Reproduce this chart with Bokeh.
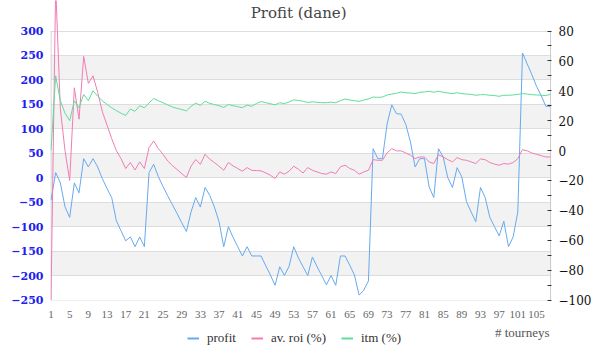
from bokeh.plotting import figure
from bokeh.layouts import column
from bokeh.models import Range1d, LinearAxis, FixedTicker, BoxAnnotation, Label, Legend, LegendItem
from bokeh.embed import file_html
from bokeh.resources import INLINE

# ---------------- data ----------------
tourneys = list(range(1, 109))

profit = [
    -46, 10.5, -10.6, -59.5, -81.3, -10.6, -31, 39, 22, 39,
    22, -2, -22, -40.5, -88, -108.5, -129, -121, -141, -121,
    -141, 10.5, 27.5, 2, -18, -37, -55, -73, -92, -110,
    -70, -40.5, -60, -20, -36, -60, -90, -141, -100, -122,
    -141, -160, -141, -160, -160, -160, -180, -199, -220, -182,
    -200, -181, -141, -164, -182, -200, -162, -182, -200, -219,
    -200, -220, -160, -160, -179, -199, -240, -230, -211, 59.5,
    39, 39, 110, 149, 131, 130, 109, 73, 22, 39,
    39, -19, -40.5, 59.5, 42.5, 0, -20, 20.7, 1.7, -49,
    -70, -90, -20, -40.5, -81, -100, -119, -89, -141, -121,
    -70, 255, 233, 211, 187, 168, 146, 146,
]

roi = [
    -100, 110, 28, 0, -20, 42, 21, 63, 45, 50,
    39, 26, 17, 8, 0, -5.4, -12, -8, -13, -7.6,
    -12, 2, 6.4, 1.3, -2.5, -7, -10, -12.7, -15.4, -18,
    -10.5, -6, -9.2, -2.5, -5.8, -8, -10.5, -13.2, -8, -10.3,
    -12, -13.8, -11.4, -13.2, -13.4, -13.6, -15, -16.5, -18.7, -14.3,
    -15.8, -13.8, -10.5, -12.5, -15, -11.4, -13.2, -14.3, -15.4, -15.8,
    -14.3, -15.4, -10.9, -9.8, -12, -13.2, -15.8, -14.3, -13.2, -6.1,
    -6.5, -6.5, -1.6, 1.3, -0.2, -0.2, -1.6, -3.1, -5.4, -4.3,
    -4.3, -7.6, -8.7, -2.8, -4.3, -6.1, -7.6, -4.7, -6.1, -6.5,
    -7.6, -8.7, -5.6, -6.1, -8, -9.1, -9.8, -8.7, -9.1, -8,
    -5.4, 0.6, -0.2, -1.6, -2.5, -3.4, -4.3, -4.3,
]

itm = [
    0, 50, 33.3, 25, 20, 33.3, 28.6, 37.5, 33.3, 40,
    36.4, 33.3, 30.8, 28.6, 26.7, 25, 23.5, 27.8, 26.3, 30,
    28.6, 31.8, 34.8, 33.3, 32, 30.5, 29.2, 28.2, 27.5, 26.5,
    29.6, 31.8, 30.2, 33, 31.6, 30.8, 30, 28.9, 30.8, 30,
    29.4, 28.7, 30.4, 29.6, 31.5, 32.8, 32, 31.3, 30.6, 32,
    31.4, 32.5, 33.9, 33.5, 33, 32.2, 32.6, 32.3, 32, 32,
    32.4, 32, 33.4, 34.5, 33.8, 33.4, 32.9, 33.8, 34.5, 35.8,
    35.6, 35.8, 37.2, 37.8, 38.3, 39.2, 38.7, 38.5, 38.1, 39,
    39.2, 39.7, 39, 39.7, 39, 38.5, 38.1, 38.7, 38.1, 37.8,
    37.6, 37, 37.4, 37.4, 37, 36.8, 36.3, 37, 37, 37.2,
    37.6, 38.1, 37.8, 37.4, 37.2, 37, 36.8, 37.6,
]

x_ticks = list(range(1, 106, 4))
left_ticks = list(range(-250, 301, 50))
right_ticks = list(range(-100, 81, 20))
right_minor = list(range(-90, 71, 20))
series_names = ["profit", "av. roi (%)", "itm (%)"]
title_text = "Profit  (dane)"
x_title = "# tourneys"

# ---------------- geometry ----------------
W = 600
H1, H2 = 324, 36          # chart + strip for x title / legend
BL, BR, BB = 50, 49, 24
FW = W - BL - BR          # 501
FH = H1 - BB              # 300, frame starts at canvas top

sx = (FW - 1 - 0.5) / (tourneys[-1] - tourneys[0])
x_start = tourneys[0] - 0.5 / sx
x_end = tourneys[-1] + 1 / sx

top_px, bot_px = 30.5, FH - 0.5
sl = (bot_px - top_px) / (left_ticks[-1] - left_ticks[0])
yl_top = left_ticks[-1] + top_px / sl
yl_bot = left_ticks[0] - (FH - bot_px) / sl
sr = (bot_px - top_px) / (right_ticks[-1] - right_ticks[0])
yr_top = right_ticks[-1] + top_px / sr
yr_bot = right_ticks[0] - (FH - bot_px) / sr

BLUE = "#66aaee"
PINK = "#f07cb4"
GREEN = "#5fdc9c"
SERIF = "DejaVu Serif"
SERIF2 = "Liberation Serif"

p = figure(width=W, height=H1, output_backend="svg", toolbar_location=None,
           title=None,
           x_range=Range1d(x_start, x_end), y_range=Range1d(yl_bot, yl_top),
           min_border_left=BL, min_border_right=BR, min_border_top=0,
           min_border_bottom=BB, outline_line_color=None,
           background_fill_color="white", border_fill_color="white")
p.extra_y_ranges = {"right": Range1d(yr_bot, yr_top)}

# alternate bands
for k, t in enumerate(left_ticks[:-1]):
    if k % 2 == 1:
        p.add_layout(BoxAnnotation(bottom=t, top=left_ticks[k + 1],
                                   fill_color="#f2f2f2", fill_alpha=1,
                                   line_color=None, level="image"))

# grid
p.xgrid.grid_line_color = None
p.ygrid.ticker = FixedTicker(ticks=left_ticks)
p.ygrid.grid_line_color = "#dddddd"
p.ygrid.grid_line_width = 1

# frame side borders
p.segment(x0=[tourneys[0], tourneys[-1]], y0=[left_ticks[0]] * 2,
          x1=[tourneys[0], tourneys[-1]], y1=[left_ticks[-1]] * 2,
          line_color="#cccccc", line_width=1)

# x axis
xa = p.xaxis[0]
xa.ticker = FixedTicker(ticks=x_ticks, minor_ticks=[])
xa.axis_line_color = None
xa.major_tick_line_color = None
xa.minor_tick_line_color = None
xa.major_tick_out = 0
xa.minor_tick_out = 0
xa.major_label_text_font = SERIF2
xa.major_label_text_font_size = "11px"
xa.major_label_text_color = "#666666"
xa.major_label_standoff = 10

# left axis
ya = p.yaxis[0]
ya.ticker = FixedTicker(ticks=left_ticks, minor_ticks=[])
ya.axis_line_color = None
ya.major_tick_line_color = None
ya.minor_tick_line_color = None
ya.major_tick_out = 0
ya.minor_tick_out = 0
ya.major_label_text_font = SERIF
ya.major_label_text_font_style = "bold"
ya.major_label_text_font_size = "11px"
ya.major_label_text_color = "#2020ee"
ya.major_label_standoff = 7

# right axis
ra = LinearAxis(y_range_name="right",
                ticker=FixedTicker(ticks=right_ticks, minor_ticks=right_minor))
ra.axis_line_color = None
ra.major_tick_in = 4
ra.major_tick_out = 0
ra.minor_tick_in = 4
ra.minor_tick_out = 0
ra.major_tick_line_color = "#333333"
ra.minor_tick_line_color = "#333333"
ra.major_label_text_font = SERIF
ra.major_label_text_font_size = "12px"
ra.major_label_text_color = "#111111"
ra.major_label_standoff = 7
p.add_layout(ra, "right")

# series
p.line(tourneys, profit, line_color=BLUE, line_width=1)
p.line(tourneys, roi, line_color=PINK, line_width=1, y_range_name="right")
p.line(tourneys, itm, line_color=GREEN, line_width=1, y_range_name="right")

# chart title (inside the tall frame so the roi spike can rise above the grid)
p.add_layout(Label(x=FW / 2, y=FH - 12, x_units="screen", y_units="screen",
                   text=title_text, text_font=SERIF, text_font_size="15px",
                   text_color="#444444", text_align="center",
                   text_baseline="middle"))

# ---------------- bottom strip: x title + legend ----------------
# (its frame is aligned with the chart frame by the column layout)
p2 = figure(width=W, height=H2, output_backend="svg", toolbar_location=None,
            title=None, x_range=Range1d(x_start, x_end),
            y_range=Range1d(1000, 1001),
            x_axis_location=None, y_axis_location=None,
            min_border_left=BL, min_border_right=BR, min_border_top=0,
            min_border_bottom=0, outline_line_color=None,
            background_fill_color="white", border_fill_color="white")
p2.grid.visible = False

# legend swatches: same series, drawn outside this strip's visible range
lp = p2.line(tourneys, profit, line_color=BLUE, line_width=2)
lr = p2.line(tourneys, roi, line_color=PINK, line_width=2)
lg = p2.line(tourneys, itm, line_color=GREEN, line_width=2)

legend = Legend(items=[LegendItem(label=series_names[0], renderers=[lp]),
                       LegendItem(label=series_names[1], renderers=[lr]),
                       LegendItem(label=series_names[2], renderers=[lg])],
                location=(137, 14.5), orientation="horizontal",
                glyph_width=12, glyph_height=14, label_height=14,
                label_standoff=8, spacing=15, padding=0, margin=0,
                border_line_color=None, background_fill_alpha=0,
                label_text_font=SERIF2, label_text_font_size="13px",
                label_text_color="#333333")
p2.add_layout(legend)

p2.add_layout(Label(x=FW - 2, y=H2 - 8, x_units="screen", y_units="screen",
                    text=x_title, text_font=SERIF2, text_font_size="13px",
                    text_color="#555555", text_align="right",
                    text_baseline="middle"))

layout = column(p, p2, spacing=0)
open("out.html", "w").write(file_html(layout, INLINE))
